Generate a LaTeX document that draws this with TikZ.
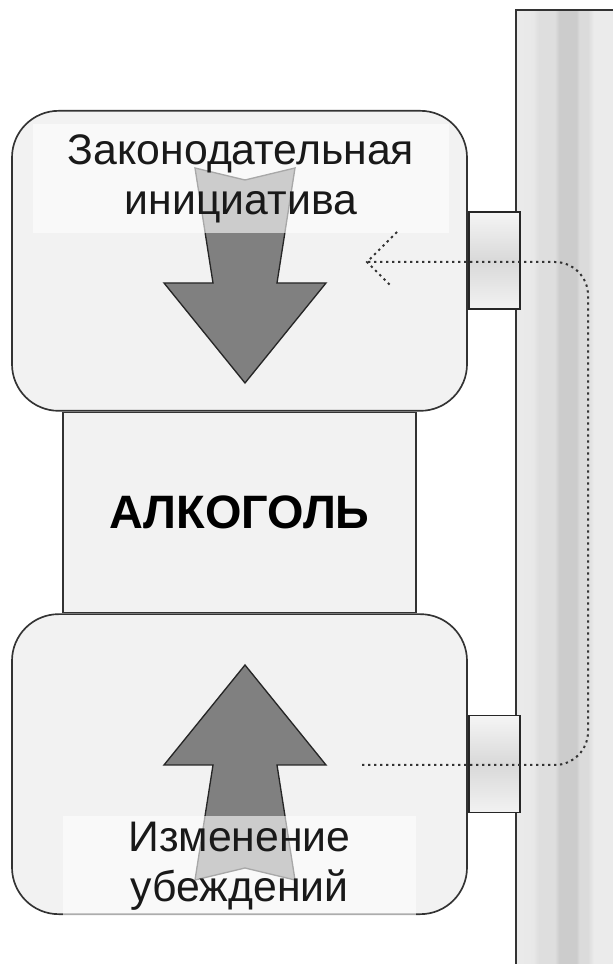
\documentclass[tikz,border=0pt]{standalone}
\usepackage{fontspec}
\setmainfont{Liberation Sans}
\usepackage{tikz}
\usetikzlibrary{positioning,shapes}

\pgfdeclarehorizontalshading{pillarshade}{100bp}{color(0bp)=(black!8); color(25bp)=(black!8); color(31bp)=(black!9); color(33bp)=(black!13); color(38.5bp)=(black!13); color(40bp)=(black!20); color(46bp)=(black!20); color(47bp)=(black!14); color(50bp)=(black!14); color(52bp)=(black!8); color(100bp)=(black!8)}

\begin{document}
\begin{tikzpicture}[
                x=0.3mm, y=0.3mm,
                panel/.style={rectangle, rounded corners=14mm, draw=black!80, line width=0.5mm, fill=black!5, minimum width=136.5mm, minimum height=90mm},
                core/.style={rectangle, draw=black!80, line width=0.5mm, fill=black!5, minimum width=105.9mm, minimum height=60mm, font=\bfseries\fontsize{40}{48}\selectfont},
                plug/.style={rectangle, draw=black!85, line width=0.5mm, top color=black!4, bottom color=black!5, middle color=black!15, minimum width=15.3mm, minimum height=29.1mm},
                pillar/.style={rectangle, draw=black!80, line width=0.5mm, shading=pillarshade, minimum width=43.2mm, minimum height=292.2mm},
                caption/.style={rectangle, fill=white, fill opacity=0.6, text opacity=1, text=black!90, align=center, font=\fontsize{36.5}{42.5}\selectfont},
                feedback/.style={draw=black!80, line width=0.6mm, dash pattern=on 0.7mm off 1.1mm, rounded corners=10mm},
                bigarrow/.pic={
                    \draw[draw=black!85, line width=0.4mm, fill=black!50]
                        (-50,215) -- (0,203) -- (50,215) -- (32,100) -- (81,100)
                        -- (0,0) -- (-81,100) -- (-32,100) -- cycle;
                }
            ]
            \useasboundingbox (0,0) rectangle (612,964);

            %pillar
            \node[pillar]       (post)      at (588,467)        {};

            %blocks
            \node[core]         (alc)       at (239.5,451.5)    {АЛКОГОЛЬ};
            \node[panel]        (law)       [above=0pt of alc]  {};
            \node[panel]        (belief)    [below=0pt of alc]  {};

            %plugs
            \node[plug]         (lawplug)   [right=0pt of law]      {};
            \node[plug]         (beliefplug)[right=0pt of belief]   {};

            %arrows
            \pic                at (245,581)    {bigarrow};
            \pic[yscale=-1]     at (245,299)    {bigarrow};

            %captions
            \node[caption, minimum width=124.8mm, minimum height=32.7mm]
                (lawtext)       at (241,785)    {Законодательная\\инициатива};
            \node[caption, minimum width=105.9mm, minimum height=30mm]
                (belieftext)    at (239.5,98)   {Изменение\\убеждений};

            %feedback loop
            \coordinate (fbstart)   at (362,199);
            \coordinate (fbend)     at (367,702);
            \coordinate (rail)      at (588,0);
            \draw[feedback] (fbstart) -- (fbstart -| rail) -- (fbend -| rail) -- (fbend);
            \draw[feedback, sharp corners] (fbend) ++(30,30) -- (fbend) -- ++(25,-25);

            \end{tikzpicture}
\end{document}
